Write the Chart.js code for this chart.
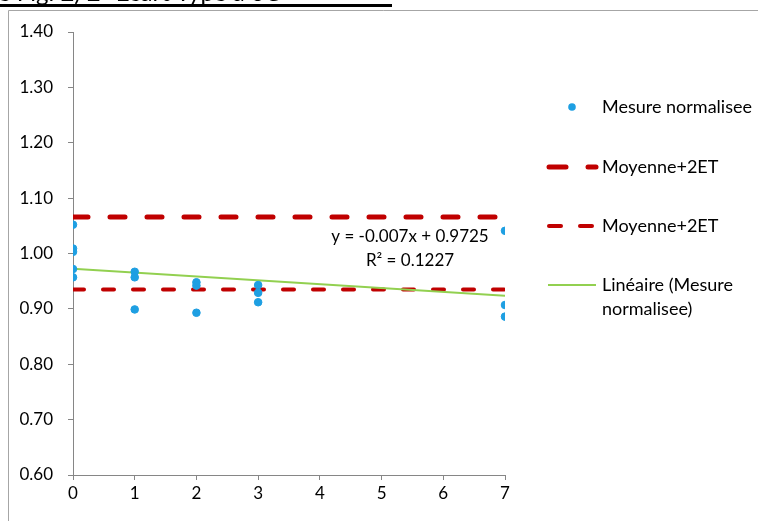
<!DOCTYPE html>
<html>
<head>
<meta charset="utf-8">
<script src="https://cdn.jsdelivr.net/npm/chart.js@4/dist/chart.umd.min.js"></script>
<style>
  html, body { margin: 0; padding: 0; background: #fff; }
  #wrap { width: 758px; height: 521px; }
</style>
</head>
<body>
<div id="wrap"><canvas id="myChart" width="758" height="521"></canvas></div>
<script>
// measured values (x = jour, y = mesure normalisee)
const measureX = [0, 0, 0, 0, 0, 1, 1, 1, 2, 2, 2, 3, 3, 3, 7, 7, 7];
const measureY = [1.052, 1.009, 1.003, 0.972, 0.957, 0.967, 0.957, 0.899, 0.948, 0.942, 0.893, 0.943, 0.929, 0.912, 1.041, 0.907, 0.886];

const limitX = [0, 7];
const upperLimit = [1.066, 1.066];
const lowerLimit = [0.935, 0.935];

const trendX = [0, 7];
const trendY = [0.9725, 0.9235];

const equationLines = ['y = -0.007x + 0.9725', 'R² = 0.1227'];
const legendLabels = ['Mesure normalisee', 'Moyenne+2ET', 'Moyenne+2ET', 'Linéaire (Mesure', 'normalisee)'];
const titleText = 'e Fig. 2) 2- Ecart Type à 0C';

const FONT = 'Lato, "Open Sans", sans-serif';
const BLUE = '#1E9FE2';
const RED = '#C00000';
const GREEN = '#92D050';
const AXIS = '#868686';

const toPoints = (xs, ys) => xs.map((x, i) => ({ x: x, y: ys[i] }));

const framePlugin = {
  id: 'frame',
  beforeDraw(chart) {
    const c = chart.ctx;
    c.save();
    c.fillStyle = '#fff';
    c.fillRect(0, 0, chart.width, chart.height);
    // title, mostly cut off by the top edge
    c.fillStyle = '#000';
    c.font = '24px ' + FONT;
    c.textBaseline = 'alphabetic';
    c.fillText(titleText, -2, 1);
    c.fillRect(0, 4, 392, 3);
    // chart frame
    c.strokeStyle = '#A6A6A6';
    c.lineWidth = 1;
    c.beginPath();
    c.moveTo(8.5, chart.height);
    c.lineTo(8.5, 10.5);
    c.lineTo(chart.width, 10.5);
    c.stroke();
    c.restore();
  },
  afterDraw(chart) {
    const c = chart.ctx;
    c.save();
    c.fillStyle = '#000';
    c.font = '17px ' + FONT;
    // trendline equation
    c.textAlign = 'center';
    c.textBaseline = 'middle';
    c.fillText(equationLines[0], 410, 237);
    c.fillText(equationLines[1], 410, 261);

    // legend
    c.font = '18px ' + FONT;
    c.textAlign = 'left';
    const tx = 602;
    c.fillStyle = BLUE;
    c.beginPath();
    c.arc(572, 107, 3.8, 0, Math.PI * 2);
    c.fill();
    c.fillStyle = '#000';
    c.fillText(legendLabels[0], tx, 107);

    c.lineCap = 'round';
    c.strokeStyle = RED;
    c.lineWidth = 5;
    c.beginPath(); c.moveTo(549, 167); c.lineTo(566, 167); c.stroke();
    c.beginPath(); c.moveTo(588, 167); c.lineTo(596, 167); c.stroke();
    c.fillText(legendLabels[1], tx, 167);

    c.lineWidth = 4;
    c.beginPath(); c.moveTo(549, 226); c.lineTo(561, 226); c.stroke();
    c.beginPath(); c.moveTo(580, 226); c.lineTo(592, 226); c.stroke();
    c.fillText(legendLabels[2], tx, 226);

    c.lineCap = 'butt';
    c.strokeStyle = GREEN;
    c.lineWidth = 2;
    c.beginPath(); c.moveTo(548, 285); c.lineTo(596, 285); c.stroke();
    c.fillText(legendLabels[3], tx, 285);
    c.fillText(legendLabels[4], tx, 309);
    c.restore();
  }
};

const ctx = document.querySelector('#myChart');

const chart = new Chart(ctx, {
  type: 'scatter',
  data: {
    datasets: [
      {
        label: 'Mesure normalisee',
        data: toPoints(measureX, measureY),
        backgroundColor: BLUE,
        borderColor: BLUE,
        pointRadius: 3.8,
        pointHoverRadius: 3.8,
        order: 1
      },
      {
        label: 'Moyenne+2ET',
        type: 'line',
        data: toPoints(limitX, upperLimit),
        borderColor: RED,
        borderWidth: 5,
        borderDash: [15, 22],
        borderCapStyle: 'round',
        pointRadius: 0,
        fill: false,
        order: 3
      },
      {
        label: 'Moyenne+2ET',
        type: 'line',
        data: toPoints(limitX, lowerLimit),
        borderColor: RED,
        borderWidth: 4,
        borderDash: [11, 19],
        borderCapStyle: 'round',
        pointRadius: 0,
        fill: false,
        order: 4
      },
      {
        label: 'Linéaire (Mesure normalisee)',
        type: 'line',
        data: toPoints(trendX, trendY),
        borderColor: GREEN,
        borderWidth: 2,
        pointRadius: 0,
        fill: false,
        order: 2
      }
    ]
  },
  options: {
    responsive: false,
    animation: false,
    events: [],
    layout: { padding: { left: 0, right: 253, top: 32, bottom: 0 } },
    plugins: {
      legend: { display: false },
      tooltip: { enabled: false }
    },
    scales: {
      x: {
        type: 'linear',
        min: 0,
        max: 7,
        afterFit: (s) => { s.height = 46; },
        ticks: {
          stepSize: 1,
          color: '#000',
          font: { family: FONT, size: 17 },
          padding: 3
        },
        grid: { drawOnChartArea: false, tickLength: 5, color: AXIS },
        border: { color: AXIS }
      },
      y: {
        min: 0.6,
        max: 1.4,
        afterFit: (s) => { s.width = 73; },
        ticks: {
          stepSize: 0.1,
          color: '#000',
          font: { family: FONT, size: 17 },
          padding: 15,
          callback: (v) => v.toFixed(2)
        },
        grid: { drawOnChartArea: false, tickLength: 5, color: AXIS },
        border: { color: AXIS }
      }
    }
  },
  plugins: [framePlugin]
});
</script>
</body>
</html>
